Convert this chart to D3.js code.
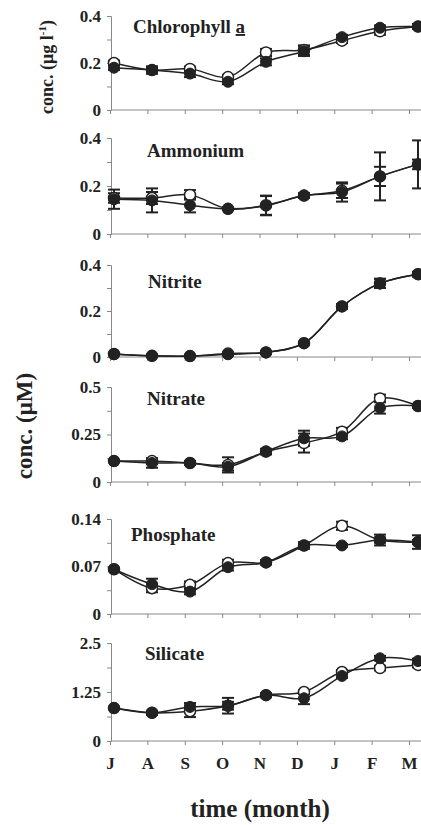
<!DOCTYPE html>
<html><head><meta charset="utf-8">
<script src="https://cdn.jsdelivr.net/npm/d3@7"></script>
<style>
html,body{margin:0;padding:0;background:#fff;}
svg{display:block;}
text{font-family:"Liberation Serif","Times New Roman",serif;font-weight:bold;fill:#222;}
</style></head>
<body>
<script>
// ---- data ----
const months = ["J","A","S","O","N","D","J","F","M"];
const panelNames = ["Chlorophyll a","Ammonium","Nitrite","Nitrate","Phosphate","Silicate"];
const yMax = [0.4,0.4,0.4,0.5,0.14,2.5];
const yTickLabels = [[0,0.2,0.4],[0,0.2,0.4],[0,0.2,0.4],[0,0.25,0.5],[0,0.07,0.14],[0,1.25,2.5]];

const chlOpen   = [0.20,0.17,0.175,0.14,0.245,0.255,0.295,0.335,0.355];
const chlFilled = [0.18,0.17,0.155,0.12,0.205,0.25,0.31,0.35,0.355];
const chlOpenErr   = [0.01,0.015,0.01,0.01,0.015,0.02,0.01,0.015,0.01];
const chlFilledErr = [0.01,0.015,0.015,0.01,0.015,0.02,0.01,0.01,0.01];

const ammOpen   = [0.15,0.15,0.163,0.105,0.12,0.16,0.18,0.24,0.29];
const ammFilled = [0.145,0.14,0.12,0.105,0.118,0.16,0.175,0.24,0.29];
const ammOpenErr   = [0.02,0.025,0.02,0.005,0.04,0.01,0.03,0.04,0.02];
const ammFilledErr = [0.04,0.05,0.03,0.005,0.04,0.01,0.04,0.1,0.1];

const nitOpen   = [0.013,0.005,0.004,0.015,0.02,0.06,0.22,0.32,0.36];
const nitFilled = [0.012,0.005,0.004,0.012,0.02,0.06,0.22,0.32,0.36];
const nitOpenErr   = [0.003,0.003,0.003,0.005,0.005,0.005,0.01,0.02,0.01];
const nitFilledErr = [0.003,0.003,0.003,0.005,0.005,0.005,0.01,0.02,0.01];

const natOpen   = [0.11,0.11,0.10,0.09,0.16,0.205,0.265,0.44,0.40];
const natFilled = [0.11,0.10,0.10,0.08,0.16,0.23,0.24,0.39,0.40];
const natOpenErr   = [0.005,0.015,0.01,0.04,0.015,0.05,0.02,0.02,0.01];
const natFilledErr = [0.005,0.025,0.01,0.02,0.01,0.04,0.015,0.03,0.01];

const phoOpen   = [0.066,0.038,0.043,0.075,0.076,0.101,0.13,0.109,0.106];
const phoFilled = [0.066,0.044,0.033,0.069,0.076,0.101,0.101,0.109,0.106];
const phoOpenErr   = [0.002,0.006,0.005,0.005,0.003,0.003,0.006,0.004,0.003];
const phoFilledErr = [0.002,0.008,0.004,0.005,0.003,0.005,0.002,0.008,0.01];

const silOpen   = [0.84,0.72,0.76,0.90,1.17,1.25,1.76,1.86,1.94];
const silFilled = [0.84,0.72,0.87,0.90,1.17,1.09,1.66,2.11,2.04];
const silOpenErr   = [0.03,0.05,0.15,0.1,0.05,0.05,0.05,0.06,0.06];
const silFilledErr = [0.03,0.05,0.1,0.2,0.05,0.15,0.05,0.06,0.06];

const openSeries   = [chlOpen, ammOpen, nitOpen, natOpen, phoOpen, silOpen];
const filledSeries = [chlFilled, ammFilled, nitFilled, natFilled, phoFilled, silFilled];
const openErrs     = [chlOpenErr, ammOpenErr, nitOpenErr, natOpenErr, phoOpenErr, silOpenErr];
const filledErrs   = [chlFilledErr, ammFilledErr, nitFilledErr, natFilledErr, phoFilledErr, silFilledErr];

// ---- layout ----
const W = 421, H = 825;
const panelTop    = [16, 138, 265, 387, 519, 643];
const panelBottom = [110, 234, 357, 482, 614, 741];
const titlePos = [[133,33],[147,157],[148,288],[147,405],[131,541],[145,660]];
const axisX = 111;

const svg = d3.select("body").append("svg").attr("width", W).attr("height", H);

const x = d3.scaleLinear().domain([0, 8]).range([114, 418]);      // data points
const xTicks = d3.scaleLinear().domain([0, 8]).range([110, 409]); // axis ticks & month labels
const curve = d3.curveCatmullRom.alpha(0.5);
const fmt = v => (v === 0 ? "0" : String(v));

panelNames.forEach((name, p) => {
  const y = d3.scaleLinear().domain([0, yMax[p]]).range([panelBottom[p], panelTop[p]]);
  const g = svg.append("g");

  // y axis (major labelled ticks + minor halfway ticks)
  const minor = d3.range(0, 5).map(i => yMax[p] * i / 4);
  const yAxis = d3.axisLeft(y).tickValues(minor).tickSize(4)
    .tickFormat(v => yTickLabels[p].some(t => Math.abs(t - v) < 1e-9) ? fmt(v) : "");
  const ya = g.append("g").attr("transform", `translate(${axisX},0)`).call(yAxis);
  ya.select(".domain").attr("stroke", "#888").attr("stroke-width", 1);
  ya.selectAll(".tick line").attr("stroke", "#888");
  ya.selectAll(".tick text").attr("x", -10).style("font-size", "17px")
    .style("font-family", '"Liberation Serif","Times New Roman",serif').style("font-weight", "bold").attr("fill", "#222");

  // x axis line with ticks
  const xAxis = d3.axisBottom(xTicks).tickValues(d3.range(0, 9)).tickSize(4)
    .tickFormat(p === 5 ? (i => months[i]) : () => "");
  const xa = g.append("g").attr("transform", `translate(0,${panelBottom[p]})`).call(xAxis);
  xa.select(".domain").attr("stroke", "#888").attr("stroke-width", 1)
    .attr("d", `M${axisX},0H${W + 5}`);
  xa.selectAll(".tick line").attr("stroke", "#888");
  xa.selectAll(".tick text").attr("y", 16).style("font-size", "17px")
    .style("font-family", '"Liberation Serif","Times New Roman",serif').style("font-weight", "bold").attr("fill", "#222");

  // title
  const t = g.append("text").attr("x", titlePos[p][0]).attr("y", titlePos[p][1]).style("font-size", "19px");
  if (name === "Chlorophyll a") {
    t.append("tspan").text("Chlorophyll ");
    t.append("tspan").text("a").style("text-decoration", "underline");
  } else t.text(name);

  const lineGen = d3.line().x((d, i) => x(i)).y(d => y(d)).curve(curve);

  const drawErr = (vals, errs) => {
    const eg = g.append("g").attr("stroke", "#222").attr("stroke-width", 2);
    vals.forEach((v, i) => {
      const e = errs[i];
      const cx = x(i);
      eg.append("line").attr("x1", cx).attr("x2", cx).attr("y1", y(v - e)).attr("y2", y(v + e));
      eg.append("line").attr("x1", cx - 6).attr("x2", cx + 6).attr("y1", y(v - e)).attr("y2", y(v - e));
      eg.append("line").attr("x1", cx - 6).attr("x2", cx + 6).attr("y1", y(v + e)).attr("y2", y(v + e));
    });
  };

  drawErr(openSeries[p], openErrs[p]);
  drawErr(filledSeries[p], filledErrs[p]);

  g.append("path").datum(openSeries[p]).attr("d", lineGen)
    .attr("fill", "none").attr("stroke", "#222").attr("stroke-width", 1.5);
  g.append("path").datum(filledSeries[p]).attr("d", lineGen)
    .attr("fill", "none").attr("stroke", "#222").attr("stroke-width", 1.5);

  g.selectAll(".open").data(openSeries[p]).enter().append("circle")
    .attr("cx", (d, i) => x(i)).attr("cy", d => y(d)).attr("r", 5.5)
    .attr("fill", "#fff").attr("stroke", "#222").attr("stroke-width", 1.5);
  g.selectAll(".filled").data(filledSeries[p]).enter().append("circle")
    .attr("cx", (d, i) => x(i)).attr("cy", d => y(d)).attr("r", 5.5)
    .attr("fill", "#222").attr("stroke", "#222").attr("stroke-width", 1);
});

// axis titles
svg.append("text").attr("transform", "translate(53,67) rotate(-90)")
  .attr("text-anchor", "middle").style("font-size", "18px")
  .html('conc. (μg l<tspan dy="-7" style="font-size:11px">-1</tspan><tspan dy="7">)</tspan>');
svg.append("text").attr("transform", "translate(32,426) rotate(-90)")
  .attr("text-anchor", "middle").style("font-size", "23px").text("conc. (μM)");
svg.append("text").attr("x", 260).attr("y", 817)
  .attr("text-anchor", "middle").style("font-size", "25px").text("time (month)");
</script>
</body></html>
